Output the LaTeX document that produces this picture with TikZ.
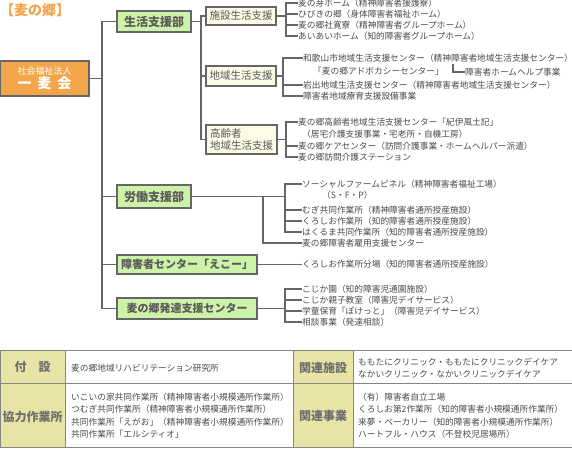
\documentclass[tikz,border=0pt]{standalone}
\usepackage{fontspec}
\setmainfont{Noto Sans CJK JP}
\definecolor{lngray}{HTML}{666666}
\definecolor{deptgreen}{HTML}{CDF3A8}
\definecolor{subcream}{HTML}{FBFBE6}
\definecolor{depttext}{HTML}{5A5A5A}
\definecolor{itemtext}{HTML}{4A4A4A}
\definecolor{orng}{HTML}{F2A649}
\definecolor{khaki}{HTML}{E8E4A6}
\definecolor{tbgray}{HTML}{858585}
\definecolor{hdtext}{HTML}{6E6E6E}
\begin{document}
\begin{tikzpicture}[x=1pt,y=-1pt,
  ln/.style={draw=lngray, line width=1.2pt},
  dept/.style={draw=lngray, line width=1.2pt, fill=deptgreen, text=depttext, font=\fontsize{12}{14}\selectfont\bfseries, inner sep=0pt},
  subbox/.style={draw=lngray, line width=1.2pt, fill=subcream, text=depttext, font=\fontsize{10.5}{12}\selectfont, inner sep=0pt},
  item/.style={anchor=west, inner sep=0pt, text=itemtext, font=\fontsize{8.7}{11}\selectfont},
  hqbox/.style={draw=lngray, line width=1.2pt, fill=orng, text=white, inner sep=0pt, align=center},
  hcell/.style={draw=tbgray, line width=1pt, fill=khaki},
  ccell/.style={draw=tbgray, line width=1pt, fill=white},
  hdtxt/.style={inner sep=0pt, text=hdtext, font=\fontsize{12}{14}\selectfont\bfseries},
  tbtxt/.style={anchor=west, inner sep=0pt, text=itemtext, align=left, font=\fontsize{8.7}{12.4}\selectfont}]
\useasboundingbox (0,0) rectangle (572,448);

% title
\node[anchor=west, inner sep=0pt, text=orng, font=\fontsize{14}{16}\selectfont\bfseries] (title) at (0,10) {【麦の郷】};

% main org
\node[hqbox, minimum width=89pt, minimum height=35pt] (hq) at (44.5,78.5)
  {{\fontsize{9}{11}\selectfont 社会福祉法人}\\[1pt]{\fontsize{14}{16}\selectfont\bfseries 一\hspace{6pt}麦\hspace{6pt}会}};

% departments
\node[dept, minimum width=74pt, minimum height=21pt] (sk) at (154,21.5) {生活支援部};
\node[dept, minimum width=74pt, minimum height=23pt] (rd) at (154,196.5) {労働支援部};
\node[dept, minimum width=140pt, minimum height=19pt, font=\fontsize{11}{13}\selectfont\bfseries] (ec) at (187,264.5) {障害者センター「えこー」};
\node[dept, minimum width=140pt, minimum height=21pt, font=\fontsize{11}{13}\selectfont\bfseries] (ht) at (187,308.5) {麦の郷発達支援センター};

\coordinate (tk) at (102,0);
\draw[ln] (sk.west) -| (tk |- ht.west) -- (ht.west);
\draw[ln] (hq.east) -- (hq.east -| tk);
\draw[ln] (rd.west) -- (rd.west -| tk);
\draw[ln] (ec.west) -- (ec.west -| tk);

% sub boxes of 生活支援部
\node[subbox, minimum width=70pt, minimum height=18pt] (s1) at (241,16) {施設生活支援};
\node[subbox, minimum width=70pt, minimum height=20pt] (s2) at (241,76) {地域生活支援};
\node[subbox, minimum width=71pt, minimum height=29pt, align=left] (s3) at (241.5,139.5) {高齢者\\地域生活支援};

\coordinate (v1) at (201,0);
\draw[ln] (sk.east) -- (sk.east -| v1);
\draw[ln] (s1.west) -| (v1 |- s3.west) -- (s3.west);
\draw[ln] (s2.west) -- (s2.west -| v1);

% group 1
\coordinate (v2) at (286,0);
\node[item] (a1) at (298,3) {麦の芽ホーム（精神障害者援護寮）};
\node[item] (a2) at (298,14) {ひびきの郷（身体障害者福祉ホーム）};
\node[item] (a3) at (298,25) {麦の郷社寛寮（精神障害者グループホーム）};
\node[item] (a4) at (298,36) {あいあいホーム（知的障害者グループホーム）};
\draw[ln] (s1.east) -- (s1.east -| v2);
\draw[ln] (a1.west) -- (a1.west -| v2) -- (a4.west -| v2) -- (a4.west);
\draw[ln] (a2.west) -- (a2.west -| v2);
\draw[ln] (a3.west) -- (a3.west -| v2);

% group 2
\coordinate (v3) at (283,0);
\node[item] (b1) at (303,58) {和歌山市地域生活支援センター（精神障害者地域生活支援センター）};
\node[item] (b2) at (313,71.5) {「麦の郷アドボカシーセンター」};
\node[item] (hh) at (465,72) {障害者ホームヘルプ事業};
\node[item] (b3) at (303,85) {岩出地域生活支援センター（精神障害者地域生活支援センター）};
\node[item] (b4) at (303,96) {障害者地域療育支援設備事業};
\draw[ln] (s2.east) -- (s2.east -| v3);
\draw[ln] (b1.west) -- (b1.west -| v3) -- (b4.west -| v3) -- (b4.west);
\draw[ln] (b3.west) -- (b3.west -| v3);
\coordinate (lc) at (453,64);
\draw[ln] (lc) |- (hh.west);

% group 3
\node[item] (c1) at (298,122) {麦の郷高齢者地域生活支援センター「紀伊風土記」};
\node[item] (c1b) at (302,134) {（居宅介護支援事業・宅老所・自機工房）};
\node[item] (c2) at (298,146) {麦の郷ケアセンター（訪問介護事業・ホームヘルパー派遣）};
\node[item] (c3) at (298,157) {麦の郷訪問介護ステーション};
\draw[ln] (s3.east) -- (s3.east -| v2);
\draw[ln] (c1.west) -- (c1.west -| v2) -- (c3.west -| v2) -- (c3.west);
\draw[ln] (c2.west) -- (c2.west -| v2);

% group 4 労働支援部
\coordinate (v4) at (285,0);
\coordinate (v5) at (263,0);
\node[item] (d1) at (302,184) {ソーシャルファームピネル（精神障害者福祉工場）};
\node[item] (d1b) at (322,195) {（S・F・P）};
\node[item] (d2) at (302,210) {むぎ共同作業所（精神障害者通所授産施設）};
\node[item] (d3) at (302,221) {くろしお作業所（知的障害者通所授産施設）};
\node[item] (d4) at (302,232) {はくるま共同作業所（知的障害者通所授産施設）};
\node[item] (d5) at (302,243) {麦の郷障害者雇用支援センター};
\draw[ln] (rd.east) -- (rd.east -| v4);
\draw[ln] (d1.west) -- (d1.west -| v4) -- (d4.west -| v4) -- (d4.west);
\draw[ln] (d2.west) -- (d2.west -| v4);
\draw[ln] (d3.west) -- (d3.west -| v4);
\draw[ln] (rd.east -| v5) |- (d5.west);

% group 5 えこー
\node[item] (e1) at (302,264.5) {くろしお作業所分場（知的障害者通所授産施設）};
\draw[ln] (ec.east) -- (e1.west);

% group 6 発達支援
\node[item] (f1) at (302,289) {こじか園（知的障害児通園施設）};
\node[item] (f2) at (302,300) {こじか親子教室（障害児デイサービス）};
\node[item] (f3) at (302,311) {学童保育「ぽけっと」（障害児デイサービス）};
\node[item] (f4) at (302,322) {相談事業（発達相談）};
\draw[ln] (ht.east) -- (ht.east -| v4);
\draw[ln] (f1.west) -- (f1.west -| v4) -- (f4.west -| v4) -- (f4.west);
\draw[ln] (f2.west) -- (f2.west -| v4);
\draw[ln] (f3.west) -- (f3.west -| v4);

% bottom table
\filldraw[hcell] (0,350) rectangle (65,383);
\filldraw[hcell] (0,383) rectangle (65,447);
\filldraw[ccell] (65,350) rectangle (293,383);
\filldraw[ccell] (65,383) rectangle (293,447);
\filldraw[hcell] (293,350) rectangle (353,383);
\filldraw[hcell] (293,383) rectangle (353,447);
\filldraw[ccell] (353,350) rectangle (572,383);
\filldraw[ccell] (353,383) rectangle (572,447);

\node[hdtxt] (t1) at (32.5,367) {付　設};
\node[hdtxt] (t2) at (32.5,417) {協力作業所};
\node[hdtxt] (t3) at (323,368) {関連施設};
\node[hdtxt] (t4) at (323,416) {関連事業};

\node[tbtxt] (u1) at (71,368) {麦の郷地域リハビリテーション研究所};
\node[tbtxt] (u2) at (71,415.5) {いこいの家共同作業所（精神障害者小規模通所作業所）\\つむぎ共同作業所（精神障害者小規模通所作業所）\\共同作業所「えがお」（精神障害者小規模通所作業所）\\共同作業所「エルシティオ」};
\node[tbtxt] (u3) at (358,368) {ももたにクリニック・ももたにクリニックデイケア\\なかいクリニック・なかいクリニックデイケア};
\node[tbtxt] (u4) at (358,415.5) {（有）障害者自立工場\\くろしお第2作業所（知的障害者小規模通所作業所）\\来夢・ベーカリー（知的障害者小規模通所作業所）\\ハートフル・ハウス（不登校児居場所）};
\end{tikzpicture}
\end{document}
